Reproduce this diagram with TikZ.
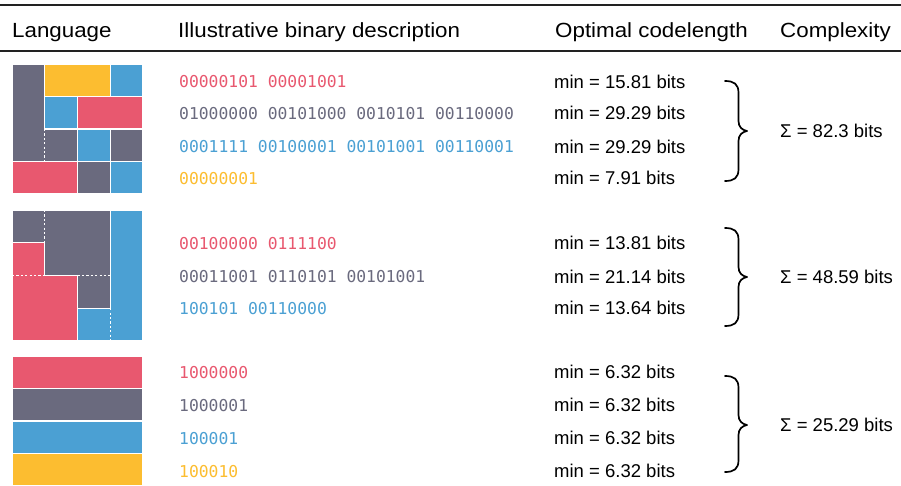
\documentclass[tikz,border=0pt]{standalone}
\usepackage{fontspec}
\setmainfont{Liberation Sans}
\newfontfamily\monofont{DejaVu Sans Mono}
\newfontfamily\headfont[FakeStretch=1.09]{Liberation Sans}
\definecolor{cred}{HTML}{E8586F}
\definecolor{cgray}{HTML}{6A6A7E}
\definecolor{cblue}{HTML}{4BA0D3}
\definecolor{cyel}{HTML}{FCBD30}
\definecolor{crule}{HTML}{222222}
\tikzset{
  tile/.style={draw=white,line width=1.4pt,line join=miter},
  sep/.style={draw=white,line width=1.3pt,dash pattern=on 2.2pt off 2.2pt},
  head/.style={anchor=base west,inner sep=0pt,font=\headfont\fontsize{20.5}{24}\selectfont,text=black},
  code/.style={anchor=base west,inner sep=0pt,font=\monofont\fontsize{16.35}{20}\selectfont},
  cl/.style={anchor=base west,inner sep=0pt,font=\fontsize{18.5}{22}\selectfont,text=black},
  brace/.style={draw=black,line width=1.7pt,line cap=round,line join=round},
  hrule/.style={draw=crule,line width=2pt}
}
\begin{document}
\begin{tikzpicture}[x=1pt,y=-1pt]
\useasboundingbox (0,0) rectangle (901,486);
% rules
\coordinate (r1a) at (0,5); \coordinate (r1b) at (901,5);
\coordinate (r2a) at (0,51); \coordinate (r2b) at (901,51);
\draw[hrule] (r1a) -- (r1b);
\draw[hrule] (r2a) -- (r2b);
% header
\node[head] (hLang) at (12,37.3) {Language};
\node[head] (hDesc) at (178,37.3) {Illustrative binary description};
\node[head] (hOpt) at (555,37.3) {Optimal codelength};
\node[head] (hComp) at (780,37.3) {Complexity};

% ---------- panel 1 ----------
\begin{scope}[shift={(12,64)},x=32.75pt,y=-32.5pt]
  \fill[cgray,tile] (0,0) -- (1,0) -- (1,2) -- (2,2) -- (2,3) -- (0,3) -- cycle;
  \fill[cyel,tile] (1,0) rectangle (3,1);
  \fill[cblue,tile] (3,0) rectangle (4,1);
  \fill[cblue,tile] (1,1) rectangle (2,2);
  \fill[cred,tile] (2,1) rectangle (4,2);
  \fill[cblue,tile] (2,2) rectangle (3,3);
  \fill[cgray,tile] (3,2) rectangle (4,3);
  \fill[cred,tile] (0,3) rectangle (2,4);
  \fill[cgray,tile] (2,3) rectangle (3,4);
  \fill[cblue,tile] (3,3) rectangle (4,4);
  \draw[sep] (1,2) -- (1,3);
\end{scope}

% ---------- panel 2 ----------
\begin{scope}[shift={(12,210)},x=32.75pt,y=-32.75pt]
  \fill[cgray,tile] (0,0) -- (3,0) -- (3,3) -- (2,3) -- (2,2) -- (1,2) -- (1,1) -- (0,1) -- cycle;
  \fill[cred,tile] (0,1) -- (1,1) -- (1,2) -- (2,2) -- (2,4) -- (0,4) -- cycle;
  \fill[cblue,tile] (3,0) -- (4,0) -- (4,4) -- (2,4) -- (2,3) -- (3,3) -- cycle;
  \draw[sep] (1,0) -- (1,1);
  \draw[sep] (2,2) -- (3,2);
  \draw[sep] (0,2) -- (1,2);
  \draw[sep] (3,3) -- (3,4);
\end{scope}

% ---------- panel 3 ----------
\begin{scope}[shift={(12,356)},x=131pt,y=-32.5pt]
  \fill[cred,tile] (0,0) rectangle (1,1);
  \fill[cgray,tile] (0,1) rectangle (1,2);
  \fill[cblue,tile] (0,2) rectangle (1,3);
  \fill[cyel,tile] (0,3) rectangle (1,4);
\end{scope}

% ---------- section 1 text ----------
\node[code,text=cred]  (c11) at (179,87.7)  {00000101 00001001};
\node[code,text=cgray] (c12) at (179,119.3) {01000000 00101000 0010101 00110000};
\node[code,text=cblue] (c13) at (179,152.7) {0001111 00100001 00101001 00110001};
\node[code,text=cyel]  (c14) at (179,184.3) {00000001};
\node[cl] (m11) at (554,88.3)  {min = 15.81 bits};
\node[cl] (m12) at (554,119.9) {min = 29.29 bits};
\node[cl] (m13) at (554,153.3) {min = 29.29 bits};
\node[cl] (m14) at (554,184.9) {min = 7.91 bits};
\node[cl] (s1) at (780,137.3) {Σ = 82.3 bits};

% ---------- section 2 text ----------
\node[code,text=cred]  (c21) at (179,249.3) {00100000 0111100};
\node[code,text=cgray] (c22) at (179,282.7) {00011001 0110101 00101001};
\node[code,text=cblue] (c23) at (179,314.3) {100101 00110000};
\node[cl] (m21) at (554,249.9) {min = 13.81 bits};
\node[cl] (m22) at (554,283.3) {min = 21.14 bits};
\node[cl] (m23) at (554,314.9) {min = 13.64 bits};
\node[cl] (s2) at (780,283.6) {Σ = 48.59 bits};

% ---------- section 3 text ----------
\node[code,text=cred]  (c31) at (179,378) {1000000};
\node[code,text=cgray] (c32) at (179,411) {1000001};
\node[code,text=cblue] (c33) at (179,444) {100001};
\node[code,text=cyel]  (c34) at (179,477) {100010};
\node[cl] (m31) at (554,378.6) {min = 6.32 bits};
\node[cl] (m32) at (554,411.6) {min = 6.32 bits};
\node[cl] (m33) at (554,444.6) {min = 6.32 bits};
\node[cl] (m34) at (554,477.6) {min = 6.32 bits};
\node[cl] (s3) at (780,431.6) {Σ = 25.29 bits};

% ---------- braces ----------
\newcommand{\mybrace}[3]{% top, tip, bottom
  \draw[brace] (725,#1) .. controls (734,#1) and (738.5,#1+3) .. (738.5,#1+12)
    -- (738.5,#2-10) .. controls (738.5,#2-4) and (742,#2-1) .. (747,#2)
    .. controls (742,#2+1) and (738.5,#2+4) .. (738.5,#2+10)
    -- (738.5,#3-12) .. controls (738.5,#3-3) and (734,#3) .. (725,#3);}
\mybrace{81}{131}{181}
\mybrace{228}{277}{326}
\mybrace{376}{425}{472}
\end{tikzpicture}
\end{document}
